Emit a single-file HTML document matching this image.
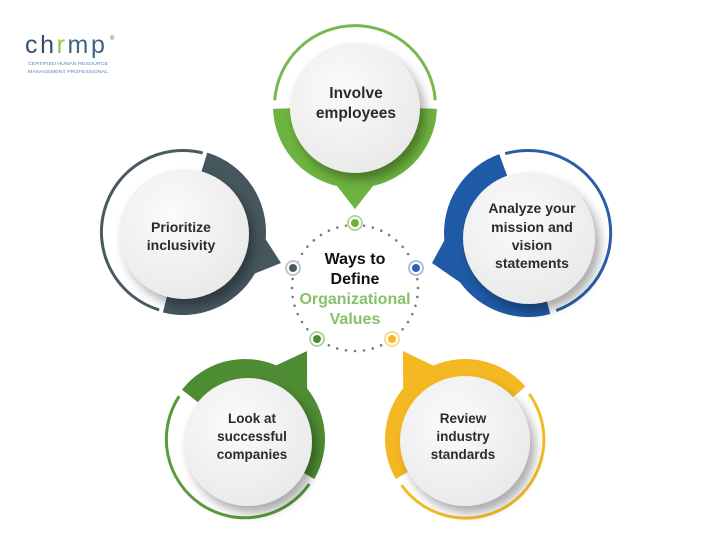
<!DOCTYPE html>
<html>
<head>
<meta charset="utf-8">
<style>
  html,body{margin:0;padding:0;background:#ffffff;}
  body{width:720px;height:539px;overflow:hidden;}
  svg{display:block;}
  text{font-family:"Liberation Sans","DejaVu Sans",sans-serif;}
</style>
</head>
<body>
<svg width="720" height="539" viewBox="0 0 720 539" xmlns="http://www.w3.org/2000/svg">
  <defs>
    <filter id="sh" x="-30%" y="-30%" width="170%" height="170%">
      <feDropShadow dx="5" dy="7" stdDeviation="5" flood-color="#000" flood-opacity="0.33"/>
    </filter>
    <radialGradient id="wg" cx="40%" cy="35%" r="70%">
      <stop offset="0" stop-color="#fbfbfb"/>
      <stop offset="1" stop-color="#e9e9e9"/>
    </radialGradient>
  </defs>

  <rect width="720" height="539" fill="#ffffff"/>

  <!-- Logo -->
  <text x="25" y="53" font-size="25" letter-spacing="2.6" fill="#34506f"><tspan>ch</tspan><tspan fill="#9cc43c">r</tspan><tspan fill="#3f6488">mp</tspan></text>
  <text x="110" y="40" font-size="6" fill="#3f6488">®</text>
  <text x="28" y="65" font-size="4.6" fill="#5a86bf" textLength="80" lengthAdjust="spacingAndGlyphs">CERTIFIED HUMAN RESOURCE</text>
  <text x="28" y="73" font-size="4.6" fill="#5a86bf" textLength="80" lengthAdjust="spacingAndGlyphs">MANAGEMENT PROFESSIONAL</text>

  <!-- Top node: Involve employees -->
  <path d="M274.7,100.4 A80.5,80.5 0 0 1 435.3,100.4" fill="none" stroke="#79b84f" stroke-width="3"/>
  <path d="M355,106 L436.95,108.86 A82,82 0 0 1 373,186 L355,209 L337,186 A82,82 0 0 1 273.05,108.86 Z" fill="#6db33f"/>
  <circle cx="355" cy="108" r="65" fill="url(#wg)" filter="url(#sh)"/>
  <text x="356" y="98" font-size="15.5" font-weight="bold" fill="#2b2b2b" text-anchor="middle">Involve</text>
  <text x="356" y="118" font-size="15.5" font-weight="bold" fill="#2b2b2b" text-anchor="middle">employees</text>

  <!-- Left node: Prioritize inclusivity -->
  <path d="M159.17,309.94 A81.5,81.5 0 0 1 202.72,152.92" fill="none" stroke="#4a5a60" stroke-width="3"/>
  <path d="M183,232 L207.27,152.63 A83,83 0 0 1 265.68,239.23 L281,263 L254.88,273.5 A83,83 0 0 1 162.92,312.53 Z" fill="#45565d"/>
  <circle cx="184" cy="234" r="65" fill="url(#wg)" filter="url(#sh)"/>
  <text x="181" y="232" font-size="14" font-weight="bold" fill="#2b2b2b" text-anchor="middle">Prioritize</text>
  <text x="181" y="250" font-size="14" font-weight="bold" fill="#2b2b2b" text-anchor="middle">inclusivity</text>

  <!-- Right node: Analyze your mission and vision statements -->
  <path d="M505.26,153.69 A82.5,82.5 0 0 1 556.22,310.53" fill="none" stroke="#2a5fa8" stroke-width="3"/>
  <path d="M528,233 L550.31,313.98 A84,84 0 0 1 460.04,282.38 L432,263 L444.32,240.32 A84,84 0 0 1 499.27,154.07 Z" fill="#1f5aa6"/>
  <circle cx="529" cy="238" r="66" fill="url(#wg)" filter="url(#sh)"/>
  <text x="532" y="213" font-size="14" font-weight="bold" fill="#2b2b2b" text-anchor="middle">Analyze your</text>
  <text x="532" y="232" font-size="14" font-weight="bold" fill="#2b2b2b" text-anchor="middle">mission and</text>
  <text x="532" y="250" font-size="14" font-weight="bold" fill="#2b2b2b" text-anchor="middle">vision</text>
  <text x="532" y="268" font-size="14" font-weight="bold" fill="#2b2b2b" text-anchor="middle">statements</text>

  <!-- Bottom-left node: Look at successful companies -->
  <path d="M309.31,484.03 A78.5,78.5 0 0 1 179.16,396.25" fill="none" stroke="#5a9a3a" stroke-width="3"/>
  <path d="M245,439 L181.96,389.74 A80,80 0 0 1 276.26,365.36 L307,351 L307.17,388.66 A80,80 0 0 1 314.28,479 Z" fill="#4e8c33"/>
  <circle cx="248" cy="442" r="64" fill="url(#wg)" filter="url(#sh)"/>
  <text x="252" y="423" font-size="13.5" font-weight="bold" fill="#2b2b2b" text-anchor="middle">Look at</text>
  <text x="252" y="441" font-size="13.5" font-weight="bold" fill="#2b2b2b" text-anchor="middle">successful</text>
  <text x="252" y="459" font-size="13.5" font-weight="bold" fill="#2b2b2b" text-anchor="middle">companies</text>

  <!-- Bottom-right node: Review industry standards -->
  <path d="M529.31,393.97 A78.5,78.5 0 0 1 401.49,485.14" fill="none" stroke="#f3bb2a" stroke-width="3"/>
  <path d="M465,439 L395.72,479 A80,80 0 0 1 403.18,388.22 L403,351 L433.23,365.58 A80,80 0 0 1 525.38,386.51 Z" fill="#f4b822"/>
  <circle cx="465" cy="441" r="65" fill="url(#wg)" filter="url(#sh)"/>
  <text x="463" y="423" font-size="13.5" font-weight="bold" fill="#2b2b2b" text-anchor="middle">Review</text>
  <text x="463" y="441" font-size="13.5" font-weight="bold" fill="#2b2b2b" text-anchor="middle">industry</text>
  <text x="463" y="459" font-size="13.5" font-weight="bold" fill="#2b2b2b" text-anchor="middle">standards</text>

  <!-- Dotted circle -->
  <circle cx="355" cy="288" r="63" fill="none" stroke="#7a7a7a" stroke-width="2.6" stroke-linecap="round" stroke-dasharray="0 8.995"/>

  <!-- Small ring icons -->
  <circle cx="355" cy="223" r="8.5" fill="#ffffff"/>
  <circle cx="355" cy="223" r="7" fill="#ffffff" stroke="#b3d79c" stroke-width="2"/>
  <circle cx="355" cy="223" r="4" fill="#6db33f"/>

  <circle cx="293" cy="268" r="8.5" fill="#ffffff"/>
  <circle cx="293" cy="268" r="7" fill="#ffffff" stroke="#c2c8ca" stroke-width="2"/>
  <circle cx="293" cy="268" r="4" fill="#4a5a60"/>

  <circle cx="416" cy="268" r="8.5" fill="#ffffff"/>
  <circle cx="416" cy="268" r="7" fill="#ffffff" stroke="#a9c1e3" stroke-width="2"/>
  <circle cx="416" cy="268" r="4" fill="#2d64b0"/>

  <circle cx="317" cy="339" r="8.5" fill="#ffffff"/>
  <circle cx="317" cy="339" r="7" fill="#ffffff" stroke="#b3d29f" stroke-width="2"/>
  <circle cx="317" cy="339" r="4" fill="#4e8c33"/>

  <circle cx="392" cy="339" r="8.5" fill="#ffffff"/>
  <circle cx="392" cy="339" r="7" fill="#ffffff" stroke="#f7dc97" stroke-width="2"/>
  <circle cx="392" cy="339" r="4" fill="#f4b822"/>

  <!-- Center text -->
  <text x="355" y="264" font-size="16" font-weight="bold" fill="#111111" text-anchor="middle">Ways to</text>
  <text x="355" y="284" font-size="16" font-weight="bold" fill="#111111" text-anchor="middle">Define</text>
  <text x="355" y="304" font-size="16" font-weight="bold" fill="#88c06a" text-anchor="middle">Organizational</text>
  <text x="355" y="324" font-size="16" font-weight="bold" fill="#88c06a" text-anchor="middle">Values</text>
</svg>
</body>
</html>
